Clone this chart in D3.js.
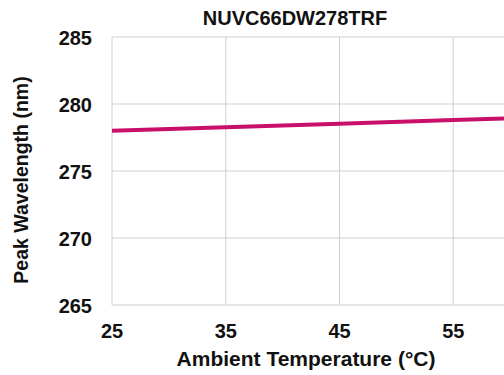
<!DOCTYPE html>
<html>
<head>
<meta charset="utf-8">
<script src="https://cdn.jsdelivr.net/npm/d3@7"></script>
<style>
  body { margin: 0; background: #fff; }
  text { font-family: "Liberation Sans", Arial, sans-serif; font-weight: bold; fill: #111; }
</style>
</head>
<body>
<div id="chart"></div>
<script>
var temps = [25, 35, 45, 55, 65];
var wavelengths = [278.0, 278.27, 278.53, 278.8, 279.07];
var xGrid = [25, 35, 45, 55, 65];
var xLabels = [25, 35, 45, 55];
var yTicks = [265, 270, 275, 280, 285];

(function chart() {
  var margin = { top: 37, right: 0, bottom: 70, left: 112 },
    width = 455,
    height = 268;

  var x = d3.scaleLinear().domain([25, 65]).range([0, width]);
  var y = d3.scaleLinear().domain([265, 285]).range([height, 0]);

  var svg = d3.select("#chart").append("svg")
    .attr("width", 504)
    .attr("height", 375)
    .append("g")
    .attr("transform", "translate(" + margin.left + "," + margin.top + ")");

  // grid
  svg.selectAll(".hgrid").data(yTicks).enter().append("line")
    .attr("x1", 0).attr("x2", width)
    .attr("y1", function(d) { return y(d); })
    .attr("y2", function(d) { return y(d); })
    .attr("stroke", "#cfcfcf").attr("stroke-width", 1);

  svg.selectAll(".vgrid").data(xGrid).enter().append("line")
    .attr("y1", 0).attr("y2", height)
    .attr("x1", function(d) { return x(d); })
    .attr("x2", function(d) { return x(d); })
    .attr("stroke", "#cfcfcf").attr("stroke-width", 1);

  // tick labels
  svg.selectAll(".ylab").data(yTicks).enter().append("text")
    .attr("x", -20)
    .attr("y", function(d) { return y(d) + 8; })
    .attr("text-anchor", "end")
    .style("font-size", "20px")
    .text(function(d) { return d; });

  svg.selectAll(".xlab").data(xLabels).enter().append("text")
    .attr("x", function(d) { return x(d); })
    .attr("y", height + 33)
    .attr("text-anchor", "middle")
    .style("font-size", "20px")
    .text(function(d) { return d; });

  // line
  var data = temps.map(function(t, i) { return { t: t, w: wavelengths[i] }; });
  var valueline = d3.line()
    .x(function(d) { return x(d.t); })
    .y(function(d) { return y(d.w); });

  svg.append("path")
    .datum(data)
    .attr("fill", "none")
    .attr("stroke", "#c8106a")
    .attr("stroke-width", 4)
    .attr("d", valueline);

  // titles
  svg.append("text")
    .attr("x", 295 - margin.left)
    .attr("y", 25 - margin.top)
    .attr("text-anchor", "middle")
    .style("font-size", "20px")
    .text("NUVC66DW278TRF");

  svg.append("text")
    .attr("x", 306 - margin.left)
    .attr("y", 366 - margin.top)
    .attr("text-anchor", "middle")
    .style("font-size", "21px")
    .text("Ambient Temperature (°C)");

  svg.append("text")
    .attr("transform", "translate(" + (28 - margin.left) + "," + (180 - margin.top) + ") rotate(-90)")
    .attr("text-anchor", "middle")
    .style("font-size", "19.5px")
    .text("Peak Wavelength (nm)");
})();
</script>
</body>
</html>
